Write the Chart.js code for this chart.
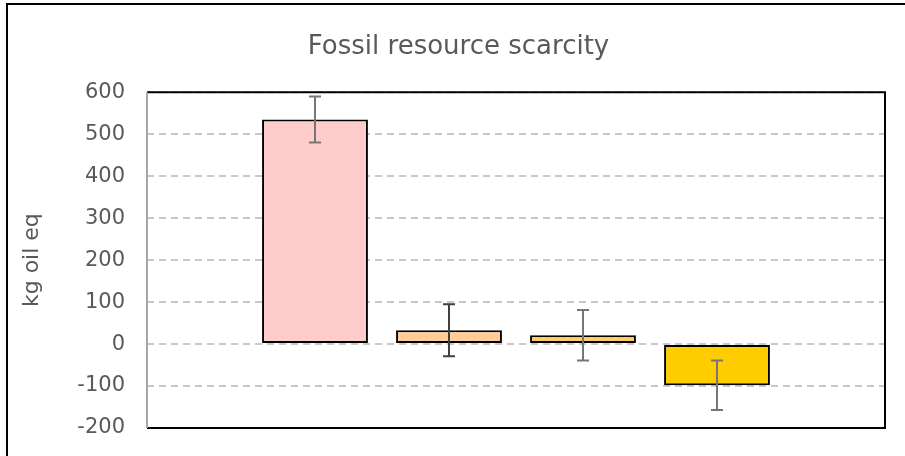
<!DOCTYPE html>
<html>
<head>
<meta charset="utf-8">
<script src="https://cdn.jsdelivr.net/npm/chart.js@4/dist/chart.umd.min.js"></script>
<style>
  html, body { margin: 0; padding: 0; background: #fff; }
  #wrap { position: relative; width: 905px; height: 456px; }
</style>
</head>
<body>
<div id="wrap"><canvas id="grafico" width="905" height="456"></canvas></div>
<script>
/* datos */
const categorias = ['Fossil resource scarcity'];
const series     = ['Serie 1', 'Serie 2', 'Serie 3', 'Serie 4'];
const valores    = [535, 33, 21, -98];
const errores    = [55, 62, 60, 59];
const colores    = ['#FFCCCC', '#FFCC99', '#FFCC66', '#FFCC00'];
const coloresErr = ['#767676', '#404040', '#767676', '#767676'];
const ticksY     = [-200, -100, 0, 100, 200, 300, 400, 500, 600];

const FUENTE = "'DejaVu Sans', sans-serif";

/* barras de error */
const barrasError = {
  id: 'barrasError',
  afterDatasetsDraw(chart) {
    const ctx = chart.ctx;
    const y = chart.scales.y;
    chart.data.datasets.forEach((ds, i) => {
      const meta = chart.getDatasetMeta(i);
      meta.data.forEach((bar, j) => {
        const v = ds.data[j];
        const e = errores[i];
        const yt = y.getPixelForValue(v + e);
        const yb = y.getPixelForValue(v - e);
        ctx.save();
        ctx.strokeStyle = coloresErr[i];
        ctx.lineWidth = 2;
        ctx.beginPath();
        ctx.moveTo(bar.x, yt); ctx.lineTo(bar.x, yb);
        ctx.moveTo(bar.x - 6, yt); ctx.lineTo(bar.x + 6, yt);
        ctx.moveTo(bar.x - 6, yb); ctx.lineTo(bar.x + 6, yb);
        ctx.stroke();
        ctx.restore();
      });
    });
  }
};

/* marco del área y del gráfico */
const marcos = {
  id: 'marcos',
  beforeDraw(chart) {
    const ctx = chart.ctx;
    ctx.save();
    ctx.strokeStyle = '#000';
    ctx.lineWidth = 2;
    ctx.beginPath();
    ctx.moveTo(7, 470); ctx.lineTo(7, 4); ctx.lineTo(920, 4);
    ctx.stroke();
    ctx.restore();
  },
  afterDatasetsDraw(chart) {
    const { left, right, top, bottom } = chart.chartArea;
    const ctx = chart.ctx;
    ctx.save();
    ctx.lineWidth = 2;
    ctx.strokeStyle = '#000';
    ctx.beginPath();
    ctx.moveTo(left, top); ctx.lineTo(right, top); ctx.lineTo(right, bottom); ctx.lineTo(left, bottom);
    ctx.stroke();
    ctx.strokeStyle = '#A6A6A6';
    ctx.beginPath();
    ctx.moveTo(left, top); ctx.lineTo(left, bottom);
    ctx.stroke();
    ctx.restore();
  }
};

new Chart(document.getElementById('grafico'), {
  type: 'bar',
  data: {
    labels: categorias,
    datasets: series.map((s, i) => ({
      label: s,
      data: [valores[i]],
      backgroundColor: colores[i],
      borderColor: '#000',
      borderWidth: 2,
      borderSkipped: false,
      categoryPercentage: 0.7263,
      barPercentage: 0.79,
    })),
  },
  options: {
    responsive: false,
    animation: false,
    layout: { padding: { left: 32, right: 20, top: 0, bottom: 28 } },
    plugins: {
      legend: { display: false },
      tooltip: { enabled: false },
      title: {
        display: true,
        text: 'Fossil resource scarcity',
        color: '#595959',
        font: { family: FUENTE, size: 26, weight: 'normal' },
        padding: { top: 32, bottom: 29 },
      },
    },
    scales: {
      x: {
        display: false,
      },
      y: {
        min: -200,
        max: 600,
        afterBuildTicks(axis) { axis.ticks = ticksY.map(v => ({ value: v })); },
        afterFit(axis) {
          axis.width = 115;
          axis.paddingTop = 0;
          axis.paddingBottom = 0;
        },
        grid: {
          drawTicks: false,
          color: '#C8C8C8',
          lineWidth: 2,
        },
        border: { display: false, dash: [7, 5] },
        ticks: {
          color: '#595959',
          font: { family: FUENTE, size: 21 },
          padding: 22,
        },
        title: {
          display: true,
          text: 'kg oil eq',
          color: '#595959',
          font: { family: FUENTE, size: 22 },
          padding: { top: -13, bottom: 4 },
        },
      },
    },
  },
  plugins: [marcos, barrasError],
});
</script>
</body>
</html>
